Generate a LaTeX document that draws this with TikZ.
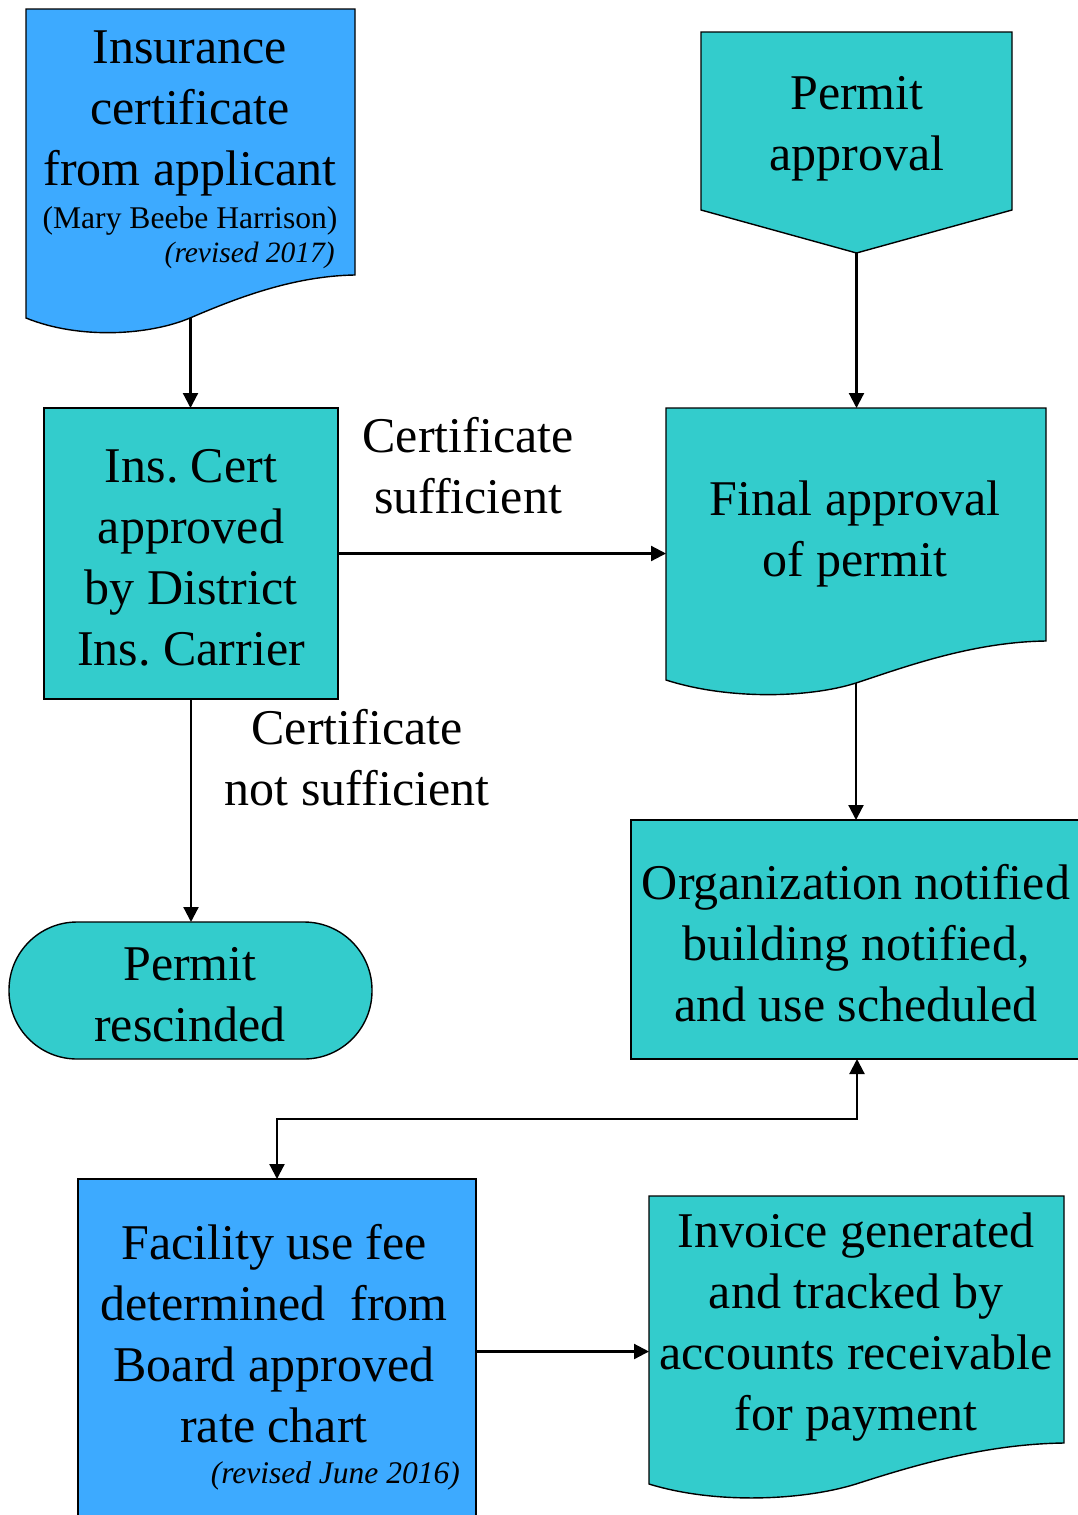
\documentclass[tikz,border=0pt]{standalone}
\usepackage{fontspec}
\setmainfont{Liberation Serif}
\usetikzlibrary{arrows.meta}
\definecolor{cblue}{HTML}{3DAAFF}
\definecolor{cteal}{HTML}{33CCCC}
\newcommand{\mlines}[1]{\begin{tabular}[t]{@{}c@{}}#1\end{tabular}}
\begin{document}
\begin{tikzpicture}[x=1pt,y=-1pt,
  shp/.style={draw=black, line width=1.4pt},
  boxnode/.style={shp, inner sep=0pt, outer sep=0pt, anchor=north west},
  ghost/.style={inner sep=0pt, outer sep=0pt, anchor=north west},
  txt/.style={anchor=base, inner sep=0pt, font=\fontsize{50}{61}\selectfont},
  smalltxt/.style={anchor=base, inner sep=0pt, font=\fontsize{31.6}{36}\selectfont},
  smallit/.style={anchor=base east, inner sep=0pt, font=\fontsize{31.5}{36}\selectfont\itshape},
  conn/.style={line width=2.2pt, -{Triangle[length=15pt,width=15pt]}},
  conntwo/.style={line width=2.2pt, {Triangle[length=15pt,width=15pt]}-{Triangle[length=15pt,width=15pt]}},
]
\useasboundingbox (0,0) rectangle (1078,1515);

% document / pentagon shapes
\filldraw[shp, fill=cblue] (26,318) .. controls (80,340) and (150,335) .. (190,318)
  .. controls (230,301) and (290,276) .. (355,275) -- (355,9) -- (26,9) -- cycle;
\node[ghost, minimum width=329pt, minimum height=309pt] (ins) at (26,9) {};

\filldraw[shp, fill=cteal] (701,32) -- (1012,32) -- (1012,210) -- (856.5,253) -- (701,210) -- cycle;
\node[ghost, minimum width=311pt, minimum height=221pt] (pa) at (701,32) {};

\filldraw[shp, fill=cteal] (666,680) .. controls (728,700) and (809,698) .. (856,683)
  .. controls (902,668) and (971,642) .. (1046,641) -- (1046,408) -- (666,408) -- cycle;
\node[ghost, minimum width=380pt, minimum height=275pt] (fin) at (666,408) {};

\filldraw[shp, fill=cteal] (649,1484) .. controls (717,1505) and (805,1500) .. (856,1484)
  .. controls (906,1468) and (982,1444) .. (1064,1443) -- (1064,1196) -- (649,1196) -- cycle;
\node[ghost, minimum width=415pt, minimum height=288pt] (inv) at (649,1196) {};

% boxes
\node[boxnode, fill=cteal, minimum width=294pt, minimum height=291pt] (cert) at (44,408) {};
\node[boxnode, fill=cteal, minimum width=363pt, minimum height=137pt, rounded corners=68pt] (resc) at (9,922) {};
\node[boxnode, fill=cteal, minimum width=452pt, minimum height=239pt] (org) at (631,820) {};
\node[boxnode, fill=cblue, minimum width=398pt, minimum height=345pt] (fac) at (78,1179) {};

% texts
\node[txt] (t1) at (190,63) {\mlines{Insurance\\certificate\\from applicant}};
\node[smalltxt] (t1b) at (190,228) {(Mary Beebe Harrison)};
\node[smallit, font=\fontsize{29.5}{36}\selectfont\itshape] (t1c) at (335,262) {(revised 2017)};
\node[txt] (t2) at (857,109) {\mlines{Permit\\approval}};
\node[txt] (t3) at (191,482) {\mlines{Ins.\ Cert\\approved\\by District\\Ins.\ Carrier}};
\node[txt] (t4) at (468,452) {\mlines{Certificate\\sufficient}};
\node[txt] (t5) at (855,515) {\mlines{Final approval\\of permit}};
\node[txt] (t6) at (357,744) {\mlines{Certificate\\not sufficient}};
\node[txt] (t7) at (190,980) {\mlines{Permit\\rescinded}};
\node[txt] (t8) at (856,899) {\mlines{Organization notified\\building notified,\\and use scheduled}};
\node[txt] (t9) at (274,1259) {\mlines{Facility use fee\\determined \ from\\Board approved\\rate chart}};
\node[smallit] (t10) at (460,1483) {(revised June 2016)};
\node[txt] (t11) at (856,1247) {\mlines{Invoice generated\\and tracked by\\accounts receivable\\for payment}};

% connectors
\draw[conn] (ins.south) -- (ins.south |- cert.north);
\draw[conn] (pa.south) -- (pa.south |- fin.north);
\draw[conn] (cert.east) -- (cert.east -| fin.west);
\draw[conn] (cert.south) -- (cert.south |- resc.north);
\draw[conn] (fin.south) -- (fin.south |- org.north);
\draw[conntwo] (org.south) -- ++(0,60) -| (fac.north);
\draw[conn] (fac.east) -- (fac.east -| inv.west);
\end{tikzpicture}
\end{document}
